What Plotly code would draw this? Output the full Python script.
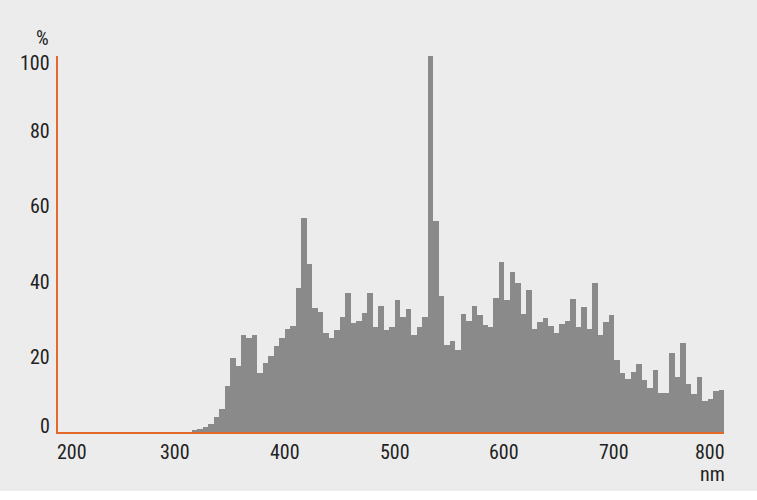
import plotly.graph_objects as go

# Wavelength bins (nm), 5 nm wide, left edges from 315 to 795
bin_start = list(range(315, 800, 5))
# Relative intensity (%) per bin
values = [
    0.4, 0.7, 1.2, 2.1, 4.1, 6.2, 12.3, 19.6, 17.6, 25.8,
    24.9, 25.8, 15.6, 18.4, 20.2, 22.9, 24.9, 27.3, 28.2, 38.4,
    57.0, 44.7, 32.9, 32.0, 26.2, 24.9, 27.1, 30.7, 37.1, 28.9,
    29.4, 31.6, 37.1, 27.9, 33.5, 27.1, 28.0, 35.1, 30.6, 32.6,
    25.7, 27.8, 30.7, 100.0, 56.2, 36.2, 23.1, 24.2, 21.8, 31.3,
    29.5, 33.5, 31.0, 28.4, 27.8, 35.6, 45.3, 35.2, 42.6, 39.5,
    31.3, 37.9, 27.5, 29.3, 30.2, 28.2, 26.2, 28.6, 29.4, 35.5,
    28.0, 33.3, 27.5, 39.5, 25.8, 29.3, 31.2, 19.2, 15.6, 14.2,
    16.0, 18.0, 13.9, 11.7, 16.6, 10.3, 10.3, 21.1, 14.5, 23.7,
    12.7, 10.0, 14.5, 8.2, 8.8, 10.9, 11.1,
]
bin_width = 5
x_ticks = [200, 300, 400, 500, 600, 700, 800]
y_ticks = [0, 20, 40, 60, 80, 100]
x_unit = "nm"
y_unit = "%"

centers = [s + bin_width / 2 for s in bin_start]

FONT = "Liberation Sans Narrow, Arial Narrow, Roboto Condensed, Roboto, sans-serif"
TXT = "#222222"
ORANGE = "#e2692c"

fig = go.Figure()
fig.add_trace(go.Bar(
    x=centers, y=values, width=[bin_width] * len(centers),
    marker=dict(color="#8a8a8a", line=dict(width=0)),
    hoverinfo="x+y",
))

ann = []
for v in x_ticks:
    if v == x_ticks[0]:
        ann.append(dict(x=v, y=0, xref="x", yref="y", text=str(v), showarrow=False,
                        xanchor="center", yanchor="top", yshift=-6, xshift=7))
    elif v == x_ticks[-1]:
        ann.append(dict(x=v, y=0, xref="x", yref="y", text=str(v), showarrow=False,
                        xanchor="right", yanchor="top", yshift=-6, xshift=3))
    else:
        ann.append(dict(x=v, y=0, xref="x", yref="y", text=str(v), showarrow=False,
                        xanchor="center", yanchor="top", yshift=-6))
ann.append(dict(x=x_ticks[-1], y=0, xref="x", yref="y", text=x_unit, showarrow=False,
                xanchor="right", yanchor="top", yshift=-28, xshift=3))
for v in y_ticks:
    ys = 0
    if v == y_ticks[0]:
        ys = 6
    elif v == y_ticks[-1]:
        ys = -7
    ann.append(dict(x=0, y=v, xref="paper", yref="y", text=str(v), showarrow=False,
                    xanchor="right", yanchor="middle", xshift=-6, yshift=ys))
ann.append(dict(x=0, y=100, xref="paper", yref="y", text=y_unit, showarrow=False,
                xanchor="right", yanchor="middle", xshift=-7, yshift=18))

fig.update_layout(
    width=757, height=500,
    margin=dict(l=58, r=33, t=56, b=68),
    paper_bgcolor="#ececec", plot_bgcolor="#ececec",
    bargap=0, showlegend=False,
    font=dict(family=FONT, size=20, color=TXT),
    annotations=ann,
    xaxis=dict(range=[193.3, 800], showgrid=False, zeroline=False,
               showticklabels=False, ticks="",
               showline=True, linecolor=ORANGE, linewidth=2, fixedrange=True),
    yaxis=dict(range=[0, 100], showgrid=False, zeroline=False,
               showticklabels=False, ticks="",
               showline=True, linecolor=ORANGE, linewidth=2, fixedrange=True),
    shapes=[dict(type="rect", xref="paper", yref="paper",
                 x0=-0.2, x1=1.2, y0=-0.157, y1=-0.5,
                 fillcolor="white", line=dict(width=0), layer="below")],
)

fig.write_html(
    "out.html",
    config={"displayModeBar": False},
    post_script="document.body.style.margin='0';document.body.style.overflow='hidden';",
)
